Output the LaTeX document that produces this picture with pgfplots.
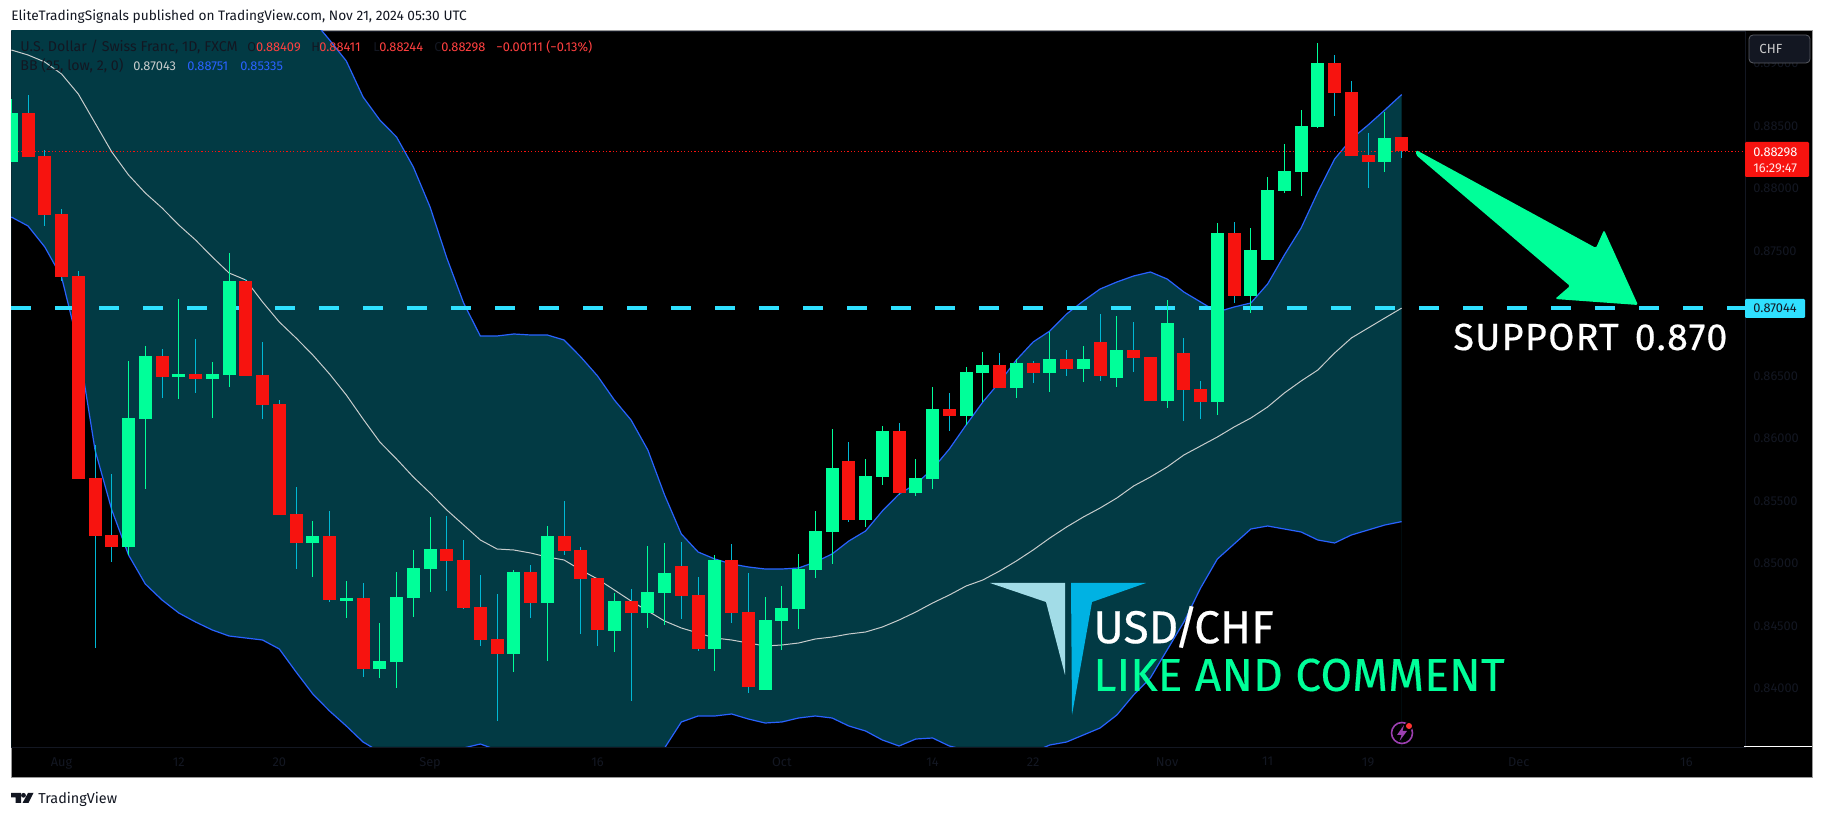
\documentclass[border=0pt]{standalone}
\usepackage{pgfplots}
\usepackage{pgfplotstable}
\usepackage{fontspec}
\setmainfont{Fira Sans}
\pgfplotsset{compat=1.18}
\definecolor{tvdark}{HTML}{131722}
\definecolor{upc}{HTML}{00FF99}
\definecolor{dnc}{HTML}{F7130F}
\definecolor{wickc}{HTML}{00B8D4}
\definecolor{bandc}{HTML}{023A44}
\definecolor{bandl}{HTML}{2962FF}
\definecolor{basisc}{HTML}{C8CCCC}
\definecolor{sup}{HTML}{2FE0FF}
\definecolor{redtxt}{HTML}{FF4040}
\definecolor{logolight}{HTML}{A2DCE7}
\definecolor{logoblue}{HTML}{00B2E3}
\definecolor{iconc}{HTML}{9C3FB0}
\pgfplotstableread{
i top bot high low
0 0.88604 0.88212 0.88716 0.88212
7 0.86164 0.85132 0.86620 0.85068
8 0.86660 0.86156 0.86740 0.85596
10 0.86516 0.86492 0.87116 0.86316
12 0.86516 0.86476 0.86612 0.86164
13 0.87260 0.86508 0.87484 0.86412
18 0.85220 0.85164 0.85340 0.84892
20 0.84724 0.84700 0.84860 0.84564
22 0.84220 0.84156 0.84524 0.84084
23 0.84732 0.84212 0.84932 0.84004
24 0.84964 0.84724 0.85108 0.84572
25 0.85116 0.84956 0.85372 0.84772
30 0.84932 0.84276 0.84948 0.84132
32 0.85220 0.84684 0.85300 0.84220
36 0.84700 0.84460 0.84764 0.84292
38 0.84772 0.84604 0.85140 0.84484
39 0.84924 0.84764 0.85164 0.84508
42 0.85028 0.84316 0.85068 0.84140
45 0.84548 0.83988 0.84732 0.83988
46 0.84644 0.84540 0.84820 0.84308
47 0.84956 0.84636 0.85076 0.84476
48 0.85260 0.84948 0.85420 0.84884
49 0.85764 0.85252 0.86076 0.84996
51 0.85700 0.85348 0.85836 0.85292
52 0.86060 0.85692 0.86100 0.85628
54 0.85684 0.85564 0.85836 0.85540
55 0.86236 0.85676 0.86412 0.85596
57 0.86532 0.86180 0.86572 0.86108
58 0.86588 0.86524 0.86692 0.86292
60 0.86604 0.86404 0.86636 0.86324
62 0.86636 0.86524 0.86852 0.86372
64 0.86636 0.86556 0.86740 0.86452
66 0.86708 0.86484 0.86980 0.86412
69 0.86924 0.86300 0.87108 0.86244
72 0.87644 0.86292 0.87724 0.86188
74 0.87508 0.87140 0.87684 0.87004
75 0.87988 0.87428 0.88092 0.87428
76 0.88140 0.87980 0.88356 0.87964
77 0.88500 0.88132 0.88628 0.87940
78 0.89004 0.88492 0.89164 0.88484
82 0.88404 0.88212 0.88612 0.88132
}\upcandles
\pgfplotstableread{
i top bot high low
1 0.88604 0.88252 0.88748 0.88252
2 0.88260 0.87788 0.88308 0.87700
3 0.87796 0.87292 0.87836 0.87260
4 0.87300 0.85676 0.87340 0.85676
5 0.85684 0.85220 0.85948 0.84324
6 0.85228 0.85132 0.85716 0.85012
9 0.86660 0.86492 0.86716 0.86324
11 0.86516 0.86476 0.86796 0.86364
14 0.87260 0.86500 0.87276 0.86500
15 0.86508 0.86268 0.86772 0.86156
16 0.86276 0.85388 0.86308 0.85388
17 0.85396 0.85164 0.85612 0.84956
19 0.85220 0.84708 0.85420 0.84692
21 0.84724 0.84156 0.84844 0.84092
26 0.85116 0.85020 0.85380 0.84780
27 0.85028 0.84644 0.85188 0.84636
28 0.84652 0.84388 0.84908 0.84340
29 0.84396 0.84276 0.84756 0.83740
31 0.84932 0.84684 0.84988 0.84564
33 0.85220 0.85100 0.85500 0.85068
34 0.85108 0.84876 0.85132 0.84436
35 0.84884 0.84468 0.84884 0.84340
37 0.84700 0.84604 0.84796 0.83900
40 0.84980 0.84740 0.85172 0.84556
41 0.84748 0.84316 0.84892 0.84300
43 0.85028 0.84604 0.85156 0.84524
44 0.84612 0.84012 0.84924 0.83964
50 0.85820 0.85348 0.85972 0.85332
53 0.86060 0.85564 0.86124 0.85548
56 0.86236 0.86180 0.86364 0.86060
59 0.86588 0.86404 0.86684 0.86404
61 0.86604 0.86524 0.86620 0.86444
63 0.86636 0.86556 0.86708 0.86500
65 0.86772 0.86500 0.86996 0.86460
67 0.86708 0.86644 0.86932 0.86532
68 0.86652 0.86300 0.86652 0.86300
70 0.86684 0.86388 0.86804 0.86140
71 0.86396 0.86292 0.86460 0.86156
73 0.87644 0.87140 0.87732 0.87084
79 0.89004 0.88764 0.89068 0.88580
80 0.88772 0.88260 0.88860 0.88260
81 0.88268 0.88212 0.88444 0.88004
83 0.88409 0.88298 0.88411 0.88244
}\downcandles
\pgfplotstableread{
i upper basis lower
0 0.89988 0.89108 0.87772
1 0.89988 0.89068 0.87700
2 0.89988 0.89012 0.87532
3 0.89988 0.88916 0.87292
4 0.89972 0.88756 0.86748
5 0.89948 0.88524 0.85908
6 0.89908 0.88292 0.85428
7 0.89868 0.88108 0.85068
8 0.89828 0.87964 0.84836
9 0.89788 0.87844 0.84708
10 0.89748 0.87708 0.84604
11 0.89708 0.87588 0.84532
12 0.89668 0.87452 0.84468
13 0.89628 0.87324 0.84420
14 0.89588 0.87268 0.84404
15 0.89548 0.87092 0.84388
16 0.89508 0.86932 0.84316
17 0.89444 0.86804 0.84132
18 0.89348 0.86668 0.83956
19 0.89188 0.86516 0.83820
20 0.89020 0.86348 0.83700
21 0.88732 0.86156 0.83572
22 0.88548 0.85972 0.83492
23 0.88412 0.85836 0.83460
24 0.88172 0.85692 0.83444
25 0.87852 0.85564 0.83444
26 0.87444 0.85428 0.83468
27 0.87084 0.85308 0.83524
28 0.86820 0.85188 0.83556
29 0.86820 0.85116 0.83508
30 0.86836 0.85108 0.83428
31 0.86828 0.85084 0.83348
32 0.86828 0.85052 0.83308
33 0.86788 0.85028 0.83268
34 0.86652 0.84948 0.83228
35 0.86500 0.84876 0.83228
36 0.86308 0.84788 0.83268
37 0.86148 0.84700 0.83348
38 0.85908 0.84620 0.83428
39 0.85548 0.84540 0.83524
40 0.85236 0.84484 0.83732
41 0.85092 0.84444 0.83780
42 0.85036 0.84404 0.83780
43 0.84996 0.84388 0.83796
44 0.84972 0.84364 0.83756
45 0.84956 0.84340 0.83724
46 0.84956 0.84348 0.83732
47 0.84964 0.84364 0.83764
48 0.85012 0.84396 0.83780
49 0.85076 0.84412 0.83764
50 0.85180 0.84436 0.83700
51 0.85260 0.84452 0.83660
52 0.85420 0.84492 0.83588
53 0.85556 0.84548 0.83540
54 0.85636 0.84612 0.83596
55 0.85756 0.84684 0.83604
56 0.85916 0.84748 0.83540
57 0.86108 0.84820 0.83508
58 0.86292 0.84868 0.83492
59 0.86452 0.84940 0.83468
60 0.86628 0.85020 0.83468
61 0.86772 0.85108 0.83492
62 0.86860 0.85204 0.83548
63 0.86996 0.85292 0.83572
64 0.87100 0.85372 0.83628
65 0.87196 0.85444 0.83684
66 0.87252 0.85524 0.83788
67 0.87300 0.85620 0.83948
68 0.87332 0.85692 0.84084
69 0.87276 0.85772 0.84308
70 0.87172 0.85868 0.84532
71 0.87092 0.85940 0.84804
72 0.87012 0.86012 0.85036
73 0.87052 0.86092 0.85156
74 0.87084 0.86164 0.85276
75 0.87236 0.86252 0.85300
76 0.87468 0.86364 0.85276
77 0.87684 0.86460 0.85252
78 0.87972 0.86548 0.85188
79 0.88236 0.86684 0.85164
80 0.88396 0.86804 0.85228
81 0.88508 0.86884 0.85268
82 0.88628 0.86964 0.85308
83 0.88751 0.87043 0.85335
}\bands
\newcommand{\ticksz}{\fontsize{6.4}{7}\selectfont}
\begin{document}
\begin{tikzpicture}
\path[use as bounding box, fill=white] (0pt,0pt) rectangle (912pt,409pt);
\begin{scope}[shift={(0pt,409pt)},x=0.5pt,y=-0.5pt]
\fill[black] (11,30.5) rectangle (1812,778);
\draw[color=black!40,line width=0.5pt] (11,30.5) rectangle (1812,778);
\end{scope}
\begin{axis}[
  at={(5.5pt,35.5pt)}, anchor=south west,
  scale only axis, width=867pt, height=358pt,
  xmin=-0.018, xmax=103.5, ymin=0.83532, ymax=0.89260,
  axis line style={draw=tvdark,line width=0.4pt},
  major tick length=0pt,
  ytick={0.84,0.845,0.85,0.855,0.86,0.865,0.87,0.875,0.88,0.885,0.89},
  yticklabel pos=right,
  xtick={3,10,16,25,35,46,55,61,69,75,81,90,100},
  xticklabels={Aug,12,20,Sep,16,Oct,14,22,Nov,11,19,Dec,16},
  tick label style={color=tvdark,font=\ticksz},
  y tick label style={inner sep=0pt,xshift=4pt,anchor=west},
  x tick label style={inner sep=0pt,yshift=-5pt,anchor=north},
  yticklabel style={/pgf/number format/assume math mode=true,/pgf/number format/fixed,/pgf/number format/fixed zerofill,/pgf/number format/precision=5},
]
\addplot[fill=bandc,draw=none,forget plot] table[x=i,y=upper]{\bands} \closedcycle;
\addplot[fill=black,draw=none,forget plot] table[x=i,y=lower]{\bands} \closedcycle;
\addplot[draw=bandl,line width=0.6pt,forget plot] table[x=i,y=upper]{\bands};
\addplot[draw=bandl,line width=0.6pt,forget plot] table[x=i,y=lower]{\bands};
\addplot[draw=basisc,line width=0.5pt,forget plot] table[x=i,y=basis]{\bands};
\addplot[draw=sup,line width=1.8pt,dash pattern=on 10pt off 12pt,forget plot] coordinates {(-0.018,0.87044) (103.5,0.87044)};
\addplot[draw=dnc,line width=0.4pt,dash pattern=on 0.6pt off 1.1pt,forget plot] coordinates {(-0.018,0.88298) (103.5,0.88298)};
% wicks
\addplot[draw=none,mark=none,forget plot,error bars/.cd,y dir=both,y explicit,error mark=none,error bar style={line width=0.5pt,color=upc,solid}]
 table[x=i,y=top,y error plus expr=\thisrow{high}-\thisrow{top},y error minus expr=\thisrow{top}-\thisrow{low}]{\upcandles};
\addplot[draw=none,mark=none,forget plot,error bars/.cd,y dir=both,y explicit,error mark=none,error bar style={line width=0.5pt,color=wickc,solid}]
 table[x=i,y=top,y error plus expr=\thisrow{high}-\thisrow{top},y error minus expr=\thisrow{top}-\thisrow{low}]{\downcandles};
% bodies
\addplot[draw=none,mark=none,forget plot,error bars/.cd,y dir=plus,y explicit,error mark=none,error bar style={line width=6.5pt,color=upc,solid}]
 table[x=i,y=bot,y error plus expr=\thisrow{top}-\thisrow{bot},y error minus expr=0]{\upcandles};
\addplot[draw=none,mark=none,forget plot,error bars/.cd,y dir=plus,y explicit,error mark=none,error bar style={line width=6.5pt,color=dnc,solid}]
 table[x=i,y=bot,y error plus expr=\thisrow{top}-\thisrow{bot},y error minus expr=0]{\downcandles};
\end{axis}
\begin{scope}[shift={(0pt,409pt)},x=0.5pt,y=-0.5pt]
% header and footer
\node[anchor=west,inner sep=0pt,text=tvdark,font=\fontsize{6.85}{7}\selectfont] at (11,17) {EliteTradingSignals published on TradingView.com, Nov 21, 2024 05:30 UTC};
\node[anchor=west,inner sep=0pt,text=tvdark,font=\fontsize{7.2}{8}\selectfont] at (38,799) {TradingView};
\fill[tvdark] (11,793) -- (21,793) -- (21,803) -- (15.5,803) -- (15.5,797.5) -- (11,797.5) -- cycle;
\fill[tvdark] (23.5,795.3) circle (2.4);
\fill[tvdark] (28,793) -- (33.5,793) -- (28.5,803) -- (22.5,803) -- cycle;
% legend
\begin{scope}[every node/.style={anchor=west,inner sep=0pt,font=\ticksz}]
\node[text=tvdark,font=\fontsize{7.1}{8}\selectfont] at (20,47) {U.S. Dollar / Swiss Franc, 1D, FXCM};
\node[text=tvdark] at (247,47) {O};
\node[text=redtxt] at (255.6,47) {0.88409};
\node[text=tvdark] at (311,47) {H};
\node[text=redtxt] at (319,47) {0.88411};
\node[text=tvdark] at (373,47) {L};
\node[text=redtxt] at (379,47) {0.88244};
\node[text=tvdark] at (434,47) {C};
\node[text=redtxt] at (441,47) {0.88298};
\node[text=redtxt] at (496,47) {−0.00111 (−0.13\%)};
\node[text=tvdark,font=\fontsize{7.1}{8}\selectfont] at (20,66) {BB (25, low, 2, 0)};
\node[text=basisc] at (133,66) {0.87043};
\node[text=bandl] at (187,66) {0.88751};
\node[text=bandl] at (240,66) {0.85335};
\end{scope}
% price scale labels
\fill[tvdark,draw=tvdark!70!white,line width=0.4pt,rounded corners=2pt] (1749,35) rectangle (1810,63);
\node[anchor=west,inner sep=0pt,text=white!80!black,font=\fontsize{6.6}{7}\selectfont] at (1759,49) {CHF};
\fill[dnc,rounded corners=0.6pt] (1745,142) rectangle (1809,177);
\node[anchor=west,inner sep=0pt,text=white,font=\ticksz] at (1753,152) {0.88298};
\node[anchor=west,inner sep=0pt,text=white!90!red,font=\ticksz] at (1753,168) {16:29:47};
\fill[sup,rounded corners=0.6pt] (1745,299) rectangle (1805,318);
\node[anchor=west,inner sep=0pt,text=tvdark,font=\ticksz] at (1753,308.5) {0.87044};
\draw[white,line width=0.5pt] (1744,747) -- (1812,747);
% arrow
\fill[upc,rounded corners=0.8pt] (1416,150) -- (1596,248) -- (1604,230) -- (1638,305) -- (1555,299) -- (1570,286) -- (1416,155) -- cycle;
% annotations
\node[anchor=west,inner sep=0pt,text=white,font=\fontsize{18.9}{20}\selectfont\addfontfeatures{LetterSpace=3.5,FakeBold=0.4}] at (1453,337) {SUPPORT\hspace{8pt}0.870};
\fill[color=logolight] (990,583) -- (1065,583) -- (1065,675) -- (1046,602) -- cycle;
\fill[color=logoblue] (1071,583) -- (1146,583) -- (1092,602) -- (1072,715) -- cycle;
\node[anchor=west,inner sep=0pt,text=white,font=\fontsize{23}{25}\selectfont\addfontfeatures{FakeBold=0.4}] at (1093,627) {USD\kern-2pt/\kern-2pt CHF};
\node[anchor=west,inner sep=0pt,text=upc,font=\fontsize{23}{25}\selectfont\addfontfeatures{LetterSpace=0.6,FakeBold=0.4}] at (1093,675) {LIKE AND COMMENT};
% event icon
\draw[color=iconc,line width=0.8pt] (1402,733) circle (10.5);
\fill[color=iconc] (1404,725) -- (1397,735) -- (1401.5,735) -- (1399.5,741) -- (1407,731) -- (1402.5,731) -- cycle;
\fill[black] (1409,726) circle (4.5);
\fill[red!80!white] (1409,726) circle (3);
\end{scope}
\end{tikzpicture}
\end{document}
